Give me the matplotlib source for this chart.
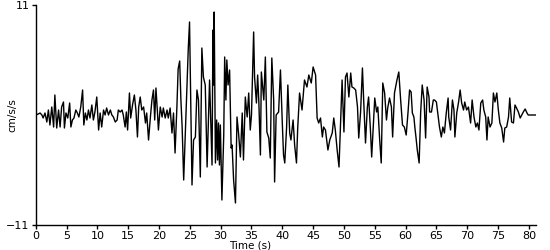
import numpy as np
import matplotlib
matplotlib.use('Agg')
import matplotlib.pyplot as plt


# data (time in s, acceleration in cm/s/s)
time_s = [
    0.0, 0.4, 0.7, 1.0, 1.2, 1.5, 1.8, 2.05, 2.3, 2.6, 2.9, 3.1, 3.4, 3.7, 3.95,
    4.2, 4.5, 4.65, 4.9, 5.2, 5.5, 5.7, 5.95, 6.2, 6.5, 6.75, 7.0, 7.3, 7.6, 7.8,
    8.05, 8.3, 8.55, 8.8, 9.1, 9.35, 9.6, 9.9, 10.2, 10.45, 10.7, 11.0, 11.25,
    11.5, 11.8, 12.1, 12.35, 12.6, 12.9, 13.2, 13.4, 13.7, 14.0, 14.2, 14.5,
    14.7, 14.9, 15.2, 15.4, 15.7, 16.0, 16.25, 16.5, 16.7, 16.95, 17.2, 17.5,
    17.8, 18.0, 18.3, 18.6, 18.85, 19.1, 19.3, 19.5, 19.75, 19.9, 20.2, 20.5,
    20.7, 21.0, 21.3, 21.5, 21.8, 22.1, 22.35, 22.6, 22.9, 23.1, 23.35, 23.55,
    23.75, 24.0, 24.4, 24.75, 24.95, 25.35, 25.6, 25.9, 26.15, 26.4, 26.7,
    26.95, 27.2, 27.5, 27.8, 28.2, 28.6, 28.75, 28.85, 28.95, 29.15, 29.35,
    29.5, 29.65, 29.8, 29.95, 30.05, 30.2, 30.5, 30.65, 30.85, 31.0, 31.2,
    31.45, 31.7, 31.85, 32.1, 32.4, 32.65, 32.9, 33.2, 33.5, 33.7, 34.0, 34.3,
    34.55, 34.8, 35.0, 35.35, 35.5, 35.8, 36.0, 36.2, 36.45, 36.6, 37.0, 37.25,
    37.5, 37.8, 38.05, 38.3, 38.6, 38.75, 39.0, 39.4, 39.7, 40.0, 40.2, 40.4,
    40.7, 40.9, 41.2, 41.4, 41.75, 42.0, 42.3, 42.5, 42.8, 43.2, 43.6, 44.0,
    44.3, 44.7, 45.0, 45.4, 45.65, 45.9, 46.2, 46.5, 46.7, 47.0, 47.4, 47.7,
    48.1, 48.35, 48.6, 48.9, 49.2, 49.4, 49.7, 50.0, 50.25, 50.5, 50.8, 51.1,
    51.3, 51.6, 51.9, 52.2, 52.4, 52.7, 53.0, 53.2, 53.5, 53.8, 54.0, 54.3,
    54.5, 54.75, 55.0, 55.3, 55.5, 55.8, 56.05, 56.3, 56.6, 56.9, 57.1, 57.4,
    57.7, 57.9, 58.2, 58.6, 58.9, 59.2, 59.5, 59.8, 60.1, 60.4, 60.65, 60.9,
    61.1, 61.35, 61.5, 61.7, 61.9, 62.2, 62.45, 62.7, 63.0, 63.25, 63.5, 63.8,
    63.9, 64.2, 64.5, 64.7, 65.0, 65.2, 65.5, 65.8, 66.05, 66.3, 66.6, 66.9,
    67.0, 67.3, 67.6, 67.85, 68.0, 68.3, 68.6, 68.85, 69.1, 69.4, 69.6, 69.9,
    70.2, 70.55, 70.8, 71.1, 71.4, 71.65, 71.9, 72.2, 72.5, 72.7, 73.0, 73.2,
    73.4, 73.7, 74.0, 74.25, 74.5, 74.8, 75.05, 75.3, 75.6, 75.9, 76.1, 76.4,
    76.7, 76.9, 77.2, 77.5, 77.75, 78.0, 78.3, 78.6, 78.85, 79.1, 79.4, 79.7,
    79.9, 80.3, 81.2,
]
accel = [
    0.0, 0.1, 0.2, 0.0, -0.3, 0.2, -0.7, 0.5, -1.0, 0.8, -1.2, 2.0, -1.3, 0.5, -1.2,
    0.8, 1.3, -1.3, 0.2, -0.3, 1.2, -1.2, -0.5, -0.3, 0.5, 0.2, -0.2, 0.8, 2.5, -1.0,
    0.2, -0.5, 0.5, -0.3, 1.0, -0.5, 0.3, 1.8, -1.5, 0.2, -1.2, 0.5, 0.0,
    0.7, 0.0, 0.5, 0.0, -0.2, -0.7, -0.5, 0.5, 0.3, 0.5, 0.0, -1.2,
    0.3, -1.5, 2.2, -0.3, 1.0, 2.0, 0.5, -2.2, 0.8, 1.8, 0.5, 0.8,
    -0.8, 0.2, -2.5, -0.2, 1.5, 2.5, -0.5, 2.7, 0.2, -1.5, 0.8, -0.2,
    0.7, -0.3, 0.5, -0.3, 0.7, -1.8, 0.2, -3.8, 0.8, 4.6, 5.4, 1.5,
    -1.2, -6.5, 0.5, 6.7, 9.3, -7.0, -2.5, -2.2, 2.5, 1.5, -6.2,
    6.7, 3.8, 3.0, -5.2, 3.5, -5.0, 8.5, 3.0, 10.3, -4.8, -0.5,
    -4.5, -0.8, -5.0, -1.0, -4.0, -8.5, -2.0, 5.8, 1.5, 5.5, 3.0,
    4.5, -3.3, -3.0, -6.5, -8.8, -0.2, -1.8, -4.2, 0.2, -4.5, 1.8, -0.2,
    2.2, -1.5, 0.0, 8.3, 3.8, 1.2, 4.0, 1.2, -4.0, 4.3, 1.5, 5.8,
    -1.7, -2.3, -4.3, 5.7, 1.5, -6.7, 0.0, 0.3, 4.5, -0.8, -4.0, -4.8,
    -1.2, 3.0, -1.8, -2.5, -0.5, -3.0, -4.8, -1.3, 2.2, 0.5, 3.5, 2.8,
    4.0, 3.2, 4.8, 4.0, -0.3, -0.8, -0.3, -2.2, -1.2, -1.5, -3.5, -2.5,
    -1.8, -0.3, -1.5, -3.5, -5.2, -1.8, 3.5, -1.7, 3.8, 4.2, 1.8, 4.2,
    2.8, 2.7, 2.5, 0.8, -2.3, 0.3, 4.7, 1.5, -2.8, 0.8, 1.8, -1.5,
    -4.2, -1.2, 1.7, 0.3, 0.8, -2.5, -4.8, 3.2, 2.2, -0.5, 0.7, 1.7,
    0.8, -2.2, 2.2, 3.5, 4.3, 1.5, -1.0, -1.2, -2.0, 0.3, 2.5, 2.3,
    0.2, -0.2, -1.2, -2.3, -3.5, -4.8, 0.3, 3.0, 1.5, -2.3, 2.8, 1.8,
    0.3, 0.3, 1.5, 1.5, 1.3, 0.3, -1.2, -2.2, -1.2, -1.8, 0.2, 1.7,
    -0.2, -1.5, 1.5, 0.5, -2.2, 0.2, 1.3, 2.5, 1.2, 0.5, 1.3, 0.5,
    0.8, -0.8, 1.5, -0.2, -1.2, -0.8, -1.5, 1.2, 1.5, 0.5, -0.2, -2.5,
    -0.2, -1.2, -0.8, 2.2, 1.3, 2.2, 0.5, -0.8, -1.3, -2.7, -1.3, -1.2,
    -0.2, 1.7, -0.7, -0.8, 1.0, 0.7, 0.3, -0.3, 0.0, 0.3, 0.6, 0.2,
    0.0, 0.0, 0.0,
]
x_ticks = list(range(0, 81, 5))
y_ticks = [-11, 11]


fig = plt.figure(figsize=(5.5, 2.5), dpi=100)
ax = fig.add_axes([0.065, 0.1, 0.91, 0.88])

ax.plot(time_s, accel, color='black', linewidth=1.0)

ax.set_xlim(0, 81.2)
ax.set_ylim(-11, 11)
ax.set_xticks(x_ticks)
ax.set_yticks(y_ticks)
ax.tick_params(axis='both', direction='out', length=3, width=1,
               labelsize=8, colors='black', pad=1.5)

# axis titles placed by hand, like the original
fig.text(250 / 550, 1 - 245.5 / 250, 'Time (s)', fontsize=7.5,
         ha='center', va='center')
fig.text(12 / 550, 1 - 115 / 250, 'cm/s/s', fontsize=7.5,
         rotation=90, ha='center', va='center')

for side in ['top', 'right']:
    ax.spines[side].set_visible(False)
for side in ['left', 'bottom']:
    ax.spines[side].set_linewidth(1)
    ax.spines[side].set_color('black')

fig.savefig('out.png', dpi=100)
